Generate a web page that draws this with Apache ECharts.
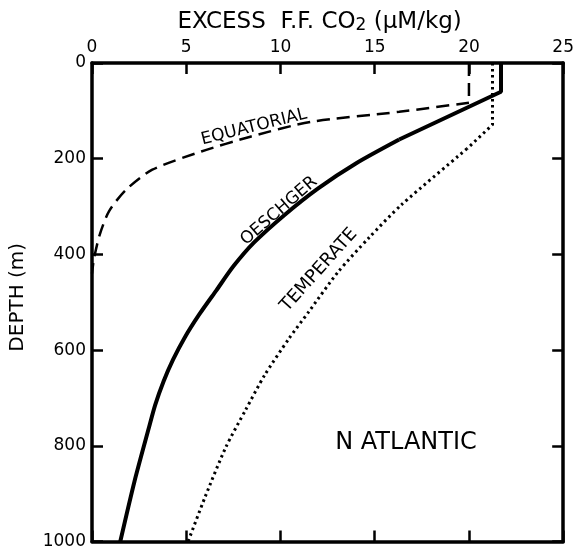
<!DOCTYPE html>
<html><head><meta charset="utf-8">
<script src="https://cdn.jsdelivr.net/npm/echarts@6/dist/echarts.min.js"></script>
<style>html,body{margin:0;padding:0;background:#fff}#c{width:577px;height:550px}</style>
</head><body><div id="c"></div>
<script>
// x = excess fossil-fuel CO2 (uM/kg), y = depth (m)
const xTicks = [0, 5, 10, 15, 20, 25];
const yTicks = [0, 200, 400, 600, 800, 1000];

const oeschgerTop = [[21.7, 0], [21.7, 60], [16.3, 160]];
const oeschgerCurve = [[16.3, 160], [14.0, 210], [12.0, 262], [10.2, 318], [8.6, 375], [7.5, 425], [6.6, 475], [5.7, 525], [4.9, 575], [4.3, 620], [3.8, 665], [3.35, 715], [3.0, 765], [2.25, 875], [1.5, 1000]];

const equatorialTop = [[20.0, 0], [20.0, 83]];
const equatorialCurve = [[20.0, 83], [16.3, 102], [11.6, 123], [8.4, 154], [5.8, 185], [3.2, 223], [1.8, 265], [0.9, 310], [0.4, 360], [0.1, 410], [0, 440]];

const temperateTop = [[21.25, 0], [21.25, 129], [19.9, 179]];
const temperateCurve = [[19.9, 179], [16.4, 297], [14.7, 365], [13.05, 437], [11.5, 520], [10.45, 576], [9.15, 653], [8.15, 725], [7.1, 803], [6.0, 907], [5.1, 1000]];

const labels = [
  {text: 'EQUATORIAL', x: 254, y: 127, rot: 14, size: 17},
  {text: 'OESCHGER', x: 279, y: 211, rot: 41, size: 17},
  {text: 'TEMPERATE', x: 319, y: 270, rot: 48, size: 18},
  {text: 'N ATLANTIC', x: 406, y: 443, rot: 0, size: 24}
];

const FONT = 'DejaVu Sans';
const chart = echarts.init(document.getElementById('c'));
const axisLine = {show: true, onZero: false, lineStyle: {color: '#000', width: 3.5}};
const tick = {show: true, inside: true, length: 11, lineStyle: {color: '#000', width: 2.5}};

function line(data, type, width, smooth) {
  return {type: 'line', data: data, showSymbol: false, symbol: 'none', smooth: smooth ? 0.25 : false,
    lineStyle: {color: '#000', width: width, type: type},
    animation: false, silent: true, xAxisIndex: 0, yAxisIndex: 0};
}
const dashT = [13, 7];
const dotT = [2.5, 3.5];

chart.setOption({
  backgroundColor: '#fff',
  animation: false,
  grid: {left: 90, right: 11, top: 63, bottom: 7, containLabel: false},
  xAxis: [
    {type: 'value', position: 'top', min: 0, max: 25, interval: 5,
      name: 'EXCESS  F.F. CO{s|2} (μM/kg)', nameLocation: 'middle', nameGap: 28,
      nameTextStyle: {fontFamily: FONT, fontSize: 23, color: '#000', padding: [0, 16, 0, 0],
        rich: {s: {fontFamily: FONT, fontSize: 17, color: '#000', padding: [8, 0, 0, 0]}}},
      axisLine: axisLine, axisTick: tick,
      axisLabel: {fontFamily: FONT, fontSize: 17, color: '#000', margin: 7,
        formatter: v => xTicks.includes(v) ? String(v) : ''},
      splitLine: {show: false}},
    {type: 'value', position: 'bottom', min: 0, max: 25, interval: 5,
      axisLine: axisLine, axisTick: tick, axisLabel: {show: false}, splitLine: {show: false}}
  ],
  yAxis: [
    {type: 'value', inverse: true, min: 0, max: 1000, interval: 200, position: 'left',
      name: 'DEPTH (m)', nameLocation: 'middle', nameGap: 64, nameRotate: 90,
      nameTextStyle: {fontFamily: FONT, fontSize: 20, color: '#000', padding: [0, 0, 0, 10]},
      axisLine: axisLine, axisTick: tick,
      axisLabel: {fontFamily: FONT, fontSize: 17, color: '#000', margin: 6,
        formatter: v => yTicks.includes(v) ? String(v) : ''},
      splitLine: {show: false}},
    {type: 'value', inverse: true, min: 0, max: 1000, interval: 200, position: 'right',
      axisLine: axisLine, axisTick: tick, axisLabel: {show: false}, splitLine: {show: false}}
  ],
  series: [
    line(oeschgerTop, 'solid', 4, false),
    line(oeschgerCurve, 'solid', 4, true),
    line(equatorialTop, dashT, 2.5, false),
    line(equatorialCurve, dashT, 2.5, true),
    line(temperateTop, dotT, 3, false),
    line(temperateCurve, dotT, 3, true)
  ],
  graphic: labels.map(l => ({type: 'text', x: l.x, y: l.y, rotation: l.rot * Math.PI / 180,
    style: {text: l.text, fontFamily: FONT, fontSize: l.size, fill: '#000',
      align: 'center', verticalAlign: 'middle'}, z: 10}))
});
</script></body></html>
